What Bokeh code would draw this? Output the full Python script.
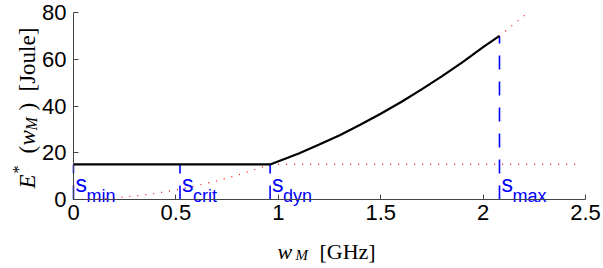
import math
from bokeh.plotting import figure
from bokeh.models import Range1d, FixedTicker, Label
from bokeh.core.properties import value
from bokeh.embed import file_html
from bokeh.resources import INLINE

# ---- data ----
x_ticks = [0, 0.5, 1, 1.5, 2, 2.5]
x_tick_labels = ["0", "0.5", "1", "1.5", "2", "2.5"]
y_ticks = [0, 20, 40, 60, 80]
y_tick_labels = ["0", "20", "40", "60", "80"]
x_min, x_max = 0.0, 2.5
y_min, y_max = 0.0, 80.0

# black: optimal energy E*(w_M)
w_flat = [0.0, 0.96]
e_flat = [15.0, 15.0]
w_curve = [0.96, 1.1, 1.2, 1.3, 1.4, 1.5, 1.6, 1.7, 1.8, 1.9, 2.0, 2.08]
e_curve = [15.0, 19.7, 23.5, 27.5, 32.0, 36.7, 41.7, 47.1, 52.8, 58.8, 65.2, 70.0]

# red dotted: unconstrained energy and static floor
w_ideal = [0.0, 0.1, 0.2, 0.3, 0.4, 0.5, 0.6, 0.7, 0.8, 0.9, 0.96, 1.1, 1.3,
           1.5, 1.7, 1.9, 2.08, 2.15, 2.22]
e_ideal = [0.0, 0.2, 0.7, 1.5, 2.6, 4.1, 5.9, 8.0, 10.4, 13.2, 15.0, 19.7, 27.5,
           36.7, 47.1, 58.8, 70.0, 75.0, 80.0]
w_floor = [0.96, 2.48]
e_floor = [15.0, 15.0]

# blue dashed markers
s_names = ["min", "crit", "dyn", "max"]
s_pos = [0.0, 0.52, 0.96, 2.08]
s_top = [15.0, 15.0, 15.0, 70.0]

BLUE = "#0000ff"
RED = "#ff0000"
AXC = "#444444"

# ---- layout: the plotting area spans the whole canvas; axes sit at fixed locations
W, H = 601, 266
PL, PR, PT, PB = 73, 585, 12, 199      # pixel box of the data area (0..2.5 x 0..80)
sx_ = (PR - PL) / (x_max - x_min)
sy_ = (PB - PT) / (y_max - y_min)
xr = Range1d(x_min - PL / sx_, x_max + (W - PR) / sx_)
yr = Range1d(y_min - (H - PB) / sy_, y_max + PT / sy_)

p = figure(width=W, height=H, output_backend="svg", toolbar_location=None,
           x_range=xr, y_range=yr, min_border=0)
p.outline_line_color = None
p.xgrid.visible = False
p.ygrid.visible = False
p.background_fill_color = "white"
p.border_fill_color = "white"

p.xaxis.fixed_location = y_min
p.yaxis.fixed_location = x_min
p.xaxis.bounds = (x_min, x_max)
p.yaxis.bounds = (y_min, y_max)
for ax, ticks, labels in ((p.xaxis, x_ticks, x_tick_labels), (p.yaxis, y_ticks, y_tick_labels)):
    ax.ticker = FixedTicker(ticks=ticks)
    ax.major_label_overrides = {t: l for t, l in zip(ticks, labels)}
    ax.major_tick_in = 5
    ax.major_tick_out = 0
    ax.minor_tick_line_color = None
    ax.axis_line_color = AXC
    ax.major_tick_line_color = AXC
    ax.major_label_text_font = "Liberation Sans"
    ax.major_label_text_font_size = "22px"
    ax.major_label_text_color = "black"
p.xaxis.major_label_standoff = 5
p.yaxis.major_label_standoff = 7

# red dotted lines
p.line(w_ideal, e_ideal, line_color=RED, line_width=1.2, line_dash="1 7")
p.line(w_floor, e_floor, line_color=RED, line_width=1.2, line_dash="1 7")

# blue dashed verticals
p.multi_line(xs=[[x, x] for x in s_pos], ys=[[0, t] for t in s_top],
             line_color=BLUE, line_width=1.6, line_dash="14 12")

# black optimal energy
p.line(w_flat, e_flat, line_color="black", line_width=2.2)
p.line(w_curve, e_curve, line_color="black", line_width=2.2)

# s labels
p.text(x=s_pos, y=[0] * 4, text=["s"] * 4, x_offset=2, y_offset=-16,
       text_font=value("Liberation Sans"), text_font_size="23px",
       text_color=BLUE, text_baseline="alphabetic", text_align="left")
p.text(x=s_pos, y=[0] * 4, text=s_names, x_offset=13, y_offset=-4,
       text_font=value("Liberation Sans"), text_font_size="18px",
       text_color=BLUE, text_baseline="alphabetic", text_align="left")

# axis titles composed from pieces (screen units: x from left, y up from bottom)
def lab(text, px, py, size, style="normal", angle=0.0):
    p.add_layout(Label(x=px, y=H - py, x_units="screen", y_units="screen",
                       text=text, text_font="Liberation Serif",
                       text_font_size=size, text_font_style=style,
                       text_color="black", text_baseline="alphabetic",
                       text_align="left", angle=angle))

lab("w", 277, 251, "22px", "italic")
lab("M", 295, 254, "15px", "italic")
lab("[GHz]", 319, 251, "22px")

A = math.pi / 2
bx = 27
lab("E", bx, 188, "23px", "italic", A)
lab("*", bx - 9, 173, "16px", "normal", A)
lab("(", bx, 153, "23px", "normal", A)
lab("w", bx, 145, "23px", "italic", A)
lab("M", bx + 4, 130, "16px", "italic", A)
lab(")", bx, 110, "23px", "normal", A)
lab("[Joule]", bx, 91, "23px", "normal", A)

open("out.html", "w").write(file_html(p, INLINE))
